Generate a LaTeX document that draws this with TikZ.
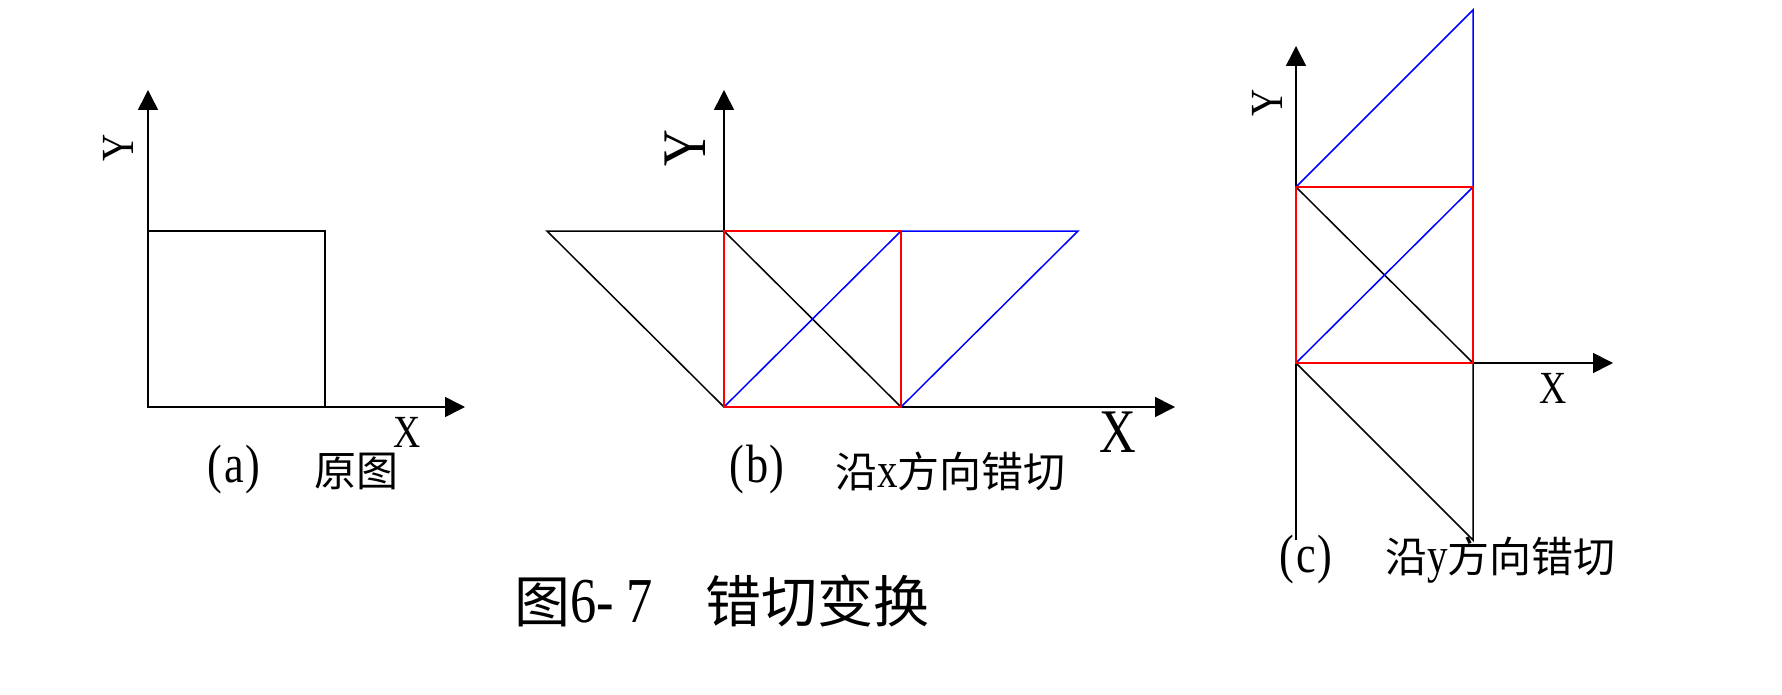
\documentclass[tikz,border=0pt]{standalone}
\usepackage{fontspec}
\usetikzlibrary{arrows.meta}
\newfontfamily\song{Noto Sans CJK SC}
\newfontfamily\latin[FakeStretch=0.82]{Liberation Serif}
\newcommand\capl[1]{{\latin\fontsize{50}{50}\selectfont #1}}
\newcommand\capp[1]{{\latin\fontsize{54}{54}\selectfont #1}}
\definecolor{shred}{RGB}{255,0,0}
\definecolor{shblue}{RGB}{0,0,255}
\begin{document}
\begin{tikzpicture}[x=1pt,y=-1pt,line join=miter]
\tikzset{
  axisline/.style={line width=1.6pt,black,-{Triangle[length=20pt,width=20pt]}},
  blk/.style={line width=1.5pt,black},
  redl/.style={line width=1.7pt,shred},
  bluel/.style={line width=1.5pt,shblue},
  axlbl/.style={font=\latin\fontsize{46}{46}\selectfont,inner sep=0pt},
  axlblbig/.style={font=\latin\fontsize{62}{62}\selectfont,inner sep=0pt},
  captxt/.style={font=\fontsize{42}{42}\selectfont,inner sep=0pt},
  titletxt/.style={font=\fontsize{56}{56}\selectfont,inner sep=0pt}
}
\useasboundingbox (0,0) rectangle (1782,695);
% ---------- panel (a)
\coordinate (a0) at (148,407);
\coordinate (a1) at (325,407);
\coordinate (a2) at (325,231);
\coordinate (a3) at (148,231);
\coordinate (ay) at (148,90);
\coordinate (ax) at (465,407);
\draw[axisline] (a0) -- (ay);
\draw[axisline] (a0) -- (ax);
\draw[blk] (a0) -- (a1) -- (a2) -- (a3) -- cycle;
\node[axlbl,rotate=90] (aY) at (118,148) {Y};
\node[axlbl] (aX) at (407,432) {X};
\node[captxt] (acap1) at (234,470) {\capp{(\hspace{2pt}a\hspace{1pt})}};
\node[captxt,anchor=west] (acap2) at (314,471) {\song 原图};
% ---------- panel (b)
\coordinate (b0) at (724,407);
\coordinate (b1) at (901,407);
\coordinate (b2) at (901,231);
\coordinate (b3) at (724,231);
\coordinate (bl) at (547,231);
\coordinate (br) at (1078,231);
\coordinate (by) at (724,90);
\coordinate (bx) at (1175,407);
\draw[axisline] (b0) -- (by);
\draw[axisline] (b0) -- (bx);
\draw[blk] (b0) -- (bl) -- (b3) -- (b1);
\draw[bluel] (b0) -- (b2) -- (br) -- (b1);
\draw[redl] (b0) -- (b1) -- (b2) -- (b3) -- cycle;
\node[axlblbig,rotate=90] (bY) at (685,148) {Y};
\node[axlblbig] (bX) at (1118,432) {X};
\node[captxt] (bcap1) at (757,470) {\capp{(\hspace{2pt}b\hspace{1pt})}};
\node[captxt,anchor=west] (bcap2) at (835,471) {\song 沿\capl{x}方向错切};
% ---------- panel (c)
\coordinate (c0) at (1296,363);
\coordinate (c1) at (1473,363);
\coordinate (c2) at (1473,187);
\coordinate (c3) at (1296,187);
\coordinate (cb0) at (1296,540);
\coordinate (cb1) at (1473,540);
\coordinate (ct) at (1473,10);
\coordinate (cy) at (1296,46);
\coordinate (cx) at (1613,363);
\draw[axisline] (cb0) -- (cy);
\draw[axisline] (c0) -- (cx);
\draw[blk] (c0) -- (cb1) -- (c1) -- (c3);
\draw[bluel] (c0) -- (c2) -- (ct) -- (c3);
\draw[redl] (c0) -- (c1) -- (c2) -- (c3) -- cycle;
\node[axlbl,rotate=90] (cY) at (1267,103) {Y};
\node[axlbl] (cX) at (1553,388) {X};
\node[captxt] (ccap1) at (1306,560) {\capp{(\hspace{2pt}c\hspace{1pt})}};
\node[captxt,anchor=west] (ccap2) at (1385,560) {\song 沿\capl{y}方向错切};
% ---------- title
\node[titletxt,anchor=west] (ttl) at (514,601) {\song 图{\latin\fontsize{64}{64}\selectfont 6- 7}\hspace{52pt}错切变换};
\end{tikzpicture}
\end{document}
